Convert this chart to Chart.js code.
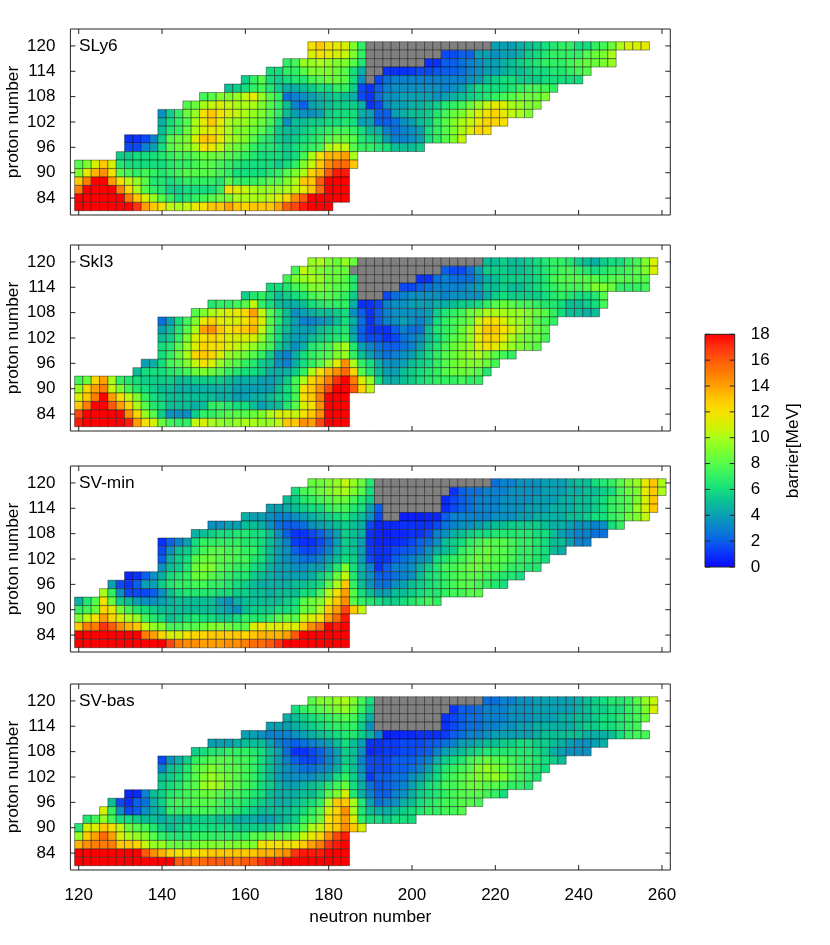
<!DOCTYPE html>
<html>
<head>
<meta charset="utf-8">
<title>barrier maps</title>
<script src="https://cdn.jsdelivr.net/npm/chart.js@4"></script>
<style>
  html,body{margin:0;padding:0;background:#fff;}
  canvas{position:absolute;}
</style>
</head>
<body>
<canvas id="c0" width="690" height="220" style="left:0;top:17px"></canvas>
<canvas id="c1" width="690" height="220" style="left:0;top:233px"></canvas>
<canvas id="c2" width="690" height="220" style="left:0;top:453.5px"></canvas>
<canvas id="c3" width="690" height="262" style="left:0;top:671.5px"></canvas>
<canvas id="bar" width="140" height="260" style="left:690px;top:320px"></canvas>
<script>
// G = no barrier (grey cells)
const G = -1;

const protonNumbers = [120,118,116,114,112,110,108,106,104,102,100,98,96,94,92,90,88,86,84,82];
const neutronTicks = [120,140,160,180,200,220,240,260];
const protonTicks = [84,90,96,102,108,114,120];
const barrierTicks = [0,2,4,6,8,10,12,14,16,18];

const sly6Starts = [176,176,170,166,160,156,150,146,140,140,140,132,132,130,120,120,120,120,120,120];
const sly6Rows = [
  [12,13,12,11.5,11,9,7,G,G,G,G,G,G,G,G,G,G,G,G,G,G,G,4,4,4,4.5,5,5.5,6,6.5,7,7,6,6,7,7.5,8.5,10,11,11,11.5],
  [11,12,11.5,11,10.5,9,7,G,G,G,G,G,G,G,G,G,1.5,1.5,2,2,4,4,3.5,4,4,4.5,5.5,6,6.5,7,7,7,7,8,8.5,9,10],
  [7,7.5,9.5,9.5,10,9.5,9,9,8,6.5,G,G,G,G,G,G,G,1,1,2,2,2.5,3,3.5,4,4,4.5,5,5.5,6,6.5,7,7,7,7.5,8,8.5,8.5,9,9.5],
  [6,6,7,7,8,9,9,9,8.5,8,6,4.5,G,G,1,1,1,1.2,1.5,1.5,1.8,2,2,2.5,3,3.5,4,4,4.5,5,5,5.5,6,6,6.5,6.5,7,7.5,8],
  [5.5,7,8,6,5.5,6,6.5,6.5,7.5,8,8.5,8.5,8,6,3.5,G,1.5,2.5,3,3,3,3,3,3,3,3,3,3.5,4,5,5.5,6,6,5.5,5.5,5.5,6,6,6,6,6],
  [5,5.5,6,7,7.5,6.5,5.5,4.5,4.5,5,5.5,6,6,7,7,5.5,1.5,1,2,3,3.5,3.5,3.5,3.5,3.5,3.5,3,3.5,4,5,6,6,6,6,6.5,7,7.5,7.5,7.5,7],
  [7.5,8,9,9,9.5,10.5,11.5,9.5,8,7,2.5,3,3.5,4,4.5,5,5.5,5,4.5,1.5,1,2.5,3.5,3.5,4,4,4,4,3.5,4,4.5,5,5.5,6,6.5,7,7.5,8,8.5,8.5,8.5,9],
  [8,8.5,10,10.5,11,10.5,10,10,10,9,8,7,5,3,2,4,4.5,5,5.5,5.5,5.5,4.5,1,1.5,3.5,4,4,4.5,4.5,5,5.5,6.5,7,7.5,8.5,9.5,10.5,11.5,11,10,9.5,9,9],
  [3.5,5.5,7,8.5,9.5,12,13,12,11,10.5,10,9.5,9,8,7,5,4,3.5,3.5,4,5.5,6,6,6,4.5,4,2,2,4,4.5,5,5,5.5,6.5,7.5,8.5,9,10,11,12,12.5,11.5,10.5,10,9],
  [4.5,6,7,8,10,11.5,13,11.5,10,9.5,9.5,9,8.5,7.5,6,3.5,5,5,5.5,5.5,6,6,6.5,6,4,4,2,2,2.5,3.5,4,5,5.5,7,8,9,10,10.5,11.5,12.5,12.5,12],
  [5,6.5,7,8.5,10,11,11.5,11,10,9,9,8.5,8,7,5.5,5,5,5.5,6,6.5,7,7.5,7.5,7,6,5,4.5,3,2.5,3,3.5,4,6,7,8,9,10,11,12.5,12],
  [1,1,1.5,3,5.5,8,8.5,9,11,13,13,11.5,10,9.5,9,8,7,6.5,5.5,5,5.5,6,6.5,7,8,8.5,8.5,8,6.5,6,5.5,4,3,3,3.5,4,6,7,8,9,10.5],
  [1.5,1.5,3,4,6,8,8.5,9,10,12,11.5,10.5,9,8.5,8,7,6.5,6.5,6,5.5,6,6.5,7,7.5,10,10.5,10.5,8,7,7,6.5,6,5,5,5,5.5],
  [5.5,5.5,6,6,6,6.5,7,7.5,7.5,8,8.5,8.5,8.5,8,7.5,7,6.5,6,6,6,5.5,6,7.5,10,12,13.5,13.5,14,10],
  [8,9,11,13,11,6.5,6,6,6,6,6,6.5,7,7,7.5,8,8,7.5,7,6.5,6,6,6,6,5.5,6,7,9,10.5,13,14.5,15.5,15.5,13],
  [9,11.5,13.5,14.5,12,8,7.5,7,7.5,7,6.5,7,7.5,8,8,8,8,7.5,7,6,6,6,6,6.5,7,8,9,10,12.5,13.5,16,17.5,17.5],
  [13,15,18,18,14,12,10.5,9.5,8,6.5,6.5,6,6.5,7,7,7,7,6.5,8,7,7,7,7.5,8,8,9,10,13,13,16,18,18,18],
  [15,18,18,18,18,15,12.5,10,8,7,6.5,5.5,5.5,6,6,6,6,7,12,11,10.5,10,9.5,9.5,9.5,10,10.5,11.5,13,15.5,18,18,18],
  [18,18,18,18,18,18,15,13,11,9.5,8,7,6,6.5,7,7.5,8,8.5,9,10,10,10,10,10.5,11,12.5,14.5,16,18,18,18,18,18],
  [18,18,18,18,18,18,18,17,14,13,12,10.5,10,10.5,11.5,12,13,13,14,13,12.5,13,13,13,14,16,16.5,17.5,18,18,18]
];

const skl3Starts = [176,172,170,166,160,152,148,140,140,140,140,140,136,134,120,120,120,120,120,120];
const skl3Rows = [
  [9.5,10,9,8.5,9.5,8.5,G,G,G,G,G,G,G,G,G,G,G,G,G,G,G,5,5,5.5,5,5,5.5,6,6.5,7,7,6.5,5.5,5,4.5,5.5,6,6,7,7.5,9,11],
  [7.5,10.5,9.5,9,8.5,8.5,8.5,G,G,G,G,G,G,G,G,G,G,G,2,1.5,1.5,2.5,4,5.5,5.5,5.5,5,5,5.5,6,6.5,7,7.5,7.5,7,6.5,6,6.5,7,7,7.5,8,9,11],
  [7.5,9,9.5,10,9.5,8.5,8.5,8,6.5,G,G,G,G,G,G,G,1,1,2.5,3,2.5,2.5,2.5,3.5,4.5,5,5.5,5.5,5.5,5.5,6,6.5,7.5,8,8,8,8,8,7.5,8,8,8,8,8],
  [6,6,6.5,7.5,8,9,9,8.5,8,8,6.5,G,G,G,G,G,1.5,1.5,2,2.5,3,3,3,3,3.5,4,5,5,5.5,5,5,5.5,6,6.5,7,7.5,7.5,7.5,8,9,9,8.5,7,7,7,7.5],
  [5.5,6.5,7,6,5,5.5,6,6.5,7.5,8,8,7.5,7,5.5,G,G,G,1.5,2.5,3,3.5,3.5,3.5,3.5,3,3.5,3.5,3.5,3.5,4.5,5.5,6,5.5,5.5,5.5,5.5,6,6.5,7,6.5,6,6,6.5,8],
  [6.5,7,7,7.5,8,10.5,7,6,5,4.5,4.5,5,6,6.5,7,7,7,4.5,1,1,1.5,3,3.5,3.5,4,4,4,4.5,4.5,5,5.5,5.5,6,7,8,8.5,8,7.5,7.5,7,6.5,6.5,6,5,5,5.5,6,7.5],
  [8,9,10,10.5,11,11.5,12.5,14,10.5,8,6.5,5,3.5,4,4.5,5,5,5.5,6,3.5,2,1,2,3,3.5,3.5,3.5,3.5,4,5.5,6.5,7,7.5,8.5,9,10,10,10,9.5,9.5,9,8.5,8,7,6,5,5,4.5,5],
  [2.5,4,6,7.5,9,11.5,12.5,11.5,11,11,12,13,11,8,6.5,5,4,3,3,3.5,4,5,6,4.5,2.5,1,2,3,3.5,4,3.5,3,4,6,7,7.5,8,8.5,10.5,12,12,11,10,9.5,9,8,7.5,7],
  [4,5,6.5,8,10,14,14.5,13,12,12.5,13,13.5,10.5,8,6,5,4,4,4,5,5.5,6,6.5,4,2,1,1,1,2,3,2.5,2.5,5,6.5,7,7.5,8.5,9.5,11.5,13,13,12,11,10,9,8.5,8],
  [5,5.5,7,9,11,12,12.5,12,11,11,11,11,9.5,7.5,6,4.5,4,4,5,5.5,6,6.5,7,4.5,2,1.5,1.5,1,1.5,2.5,3,3.5,5,6,7,8,8.5,9.5,11.5,12.5,12.5,11.5,10,9,8.5,8.5,7.5],
  [6,6.5,8,9.5,11,12.5,12,12,11,10.5,10,9.5,8.5,7.5,5.5,4.5,3.5,4.5,6.5,7,7.5,9,10,6.5,4,3,2.5,2,2,2.5,3,4,5.5,6.5,7.5,8.5,9,9.5,11,12,11.5,10.5,9.5,9,8.5,8],
  [6,7,8.5,10,12.5,13,12.5,11,9.5,9,8.5,8,7,5.5,3.5,3,4.5,6,7,7.5,8,9,9.5,7,5,4,3,2.5,3,3.5,4,5,6,7,8,8.5,9,9.5,10,9,8,7.5,7],
  [4,4.5,6,7.5,8,9,10.5,12,11,9.5,8.5,8,7,6.5,5.5,5,3.5,3,4.5,6,7,8,9.5,11.5,14.5,10,7,6,4.5,3.5,3.5,4,5,5.5,6,7,8,8.5,9,9,9,8.5,7.5],
  [5,6,6,6,6.5,7,7.5,8.5,9,8.5,8,7,6.5,6,6,5.5,4.5,4.5,4.5,5.5,7,10,12,13.5,14.5,15.5,12.5,8,6.5,5,4,4,5,5.5,6,6.5,7,8,8.5,8.5,8.5,8,6.5],
  [7.5,8.5,12.5,14,10,7,6.5,6,5.5,5.5,5.5,5.5,5,5,5.5,5.5,5.5,5.5,5,4.5,4.5,4.5,4,4,4.5,5.5,7.5,10,12.5,13.5,15,17,18,15,11,9.5,6,4.5,4.5,5,5.5,6,6.5,7,7,7,7.5,7,7],
  [9.5,12.5,14,15,10.5,9,7.5,6.5,6,5.5,5,5,4.5,4.5,4.5,4.5,4.5,4.5,4.5,4,4,4,4,4,5,6,7.5,12,13,14.5,16.5,18,18,16,12.5,10.5],
  [11,13,15,18,14,12,10.5,9,7,6,5.5,5,5,5,5,5,5,4.5,4.5,4,4,4.5,4.5,5,5.5,6,7.5,12,13,15,18,18,18],
  [13,15,18,18,16,14,12.5,10,8,6.5,6,5,5,5,4.5,5,7,7,6.5,6,6,5,4,4.5,5,6.5,8,11,12,14.5,18,18,18],
  [16.5,18,18,18,18,18,14.5,12.5,9.5,8,5.5,3.5,3.5,3.5,5.5,7,7,7.5,8,8,8,8.5,9,10,11,11,10.5,12,13,14.5,18,18,18],
  [17.5,18,18,18,18,18,17.5,14,12,11,8.5,7.5,7,7,10.5,11,10,9.5,9,9.5,10,10,9.5,9.5,10.5,13,13,14.5,14,16.5,18,18,18]
];

const svminStarts = [176,172,170,166,160,152,148,140,140,140,140,132,128,126,120,120,120,120,120,120];
const svminRows = [
  [8.5,8.5,9,9.5,10.5,9.5,8.5,6.5,G,G,G,G,G,G,G,G,G,G,G,G,G,G,2.5,3,3,3.5,3.5,3.5,4,4,4,4.5,5,5,6,6.5,7,8,9,9.5,11.5,13,10],
  [6,7.5,8,8.5,9,9.5,10,9,8,6,G,G,G,G,G,G,G,G,G,1,2,2.5,2.5,3,3,3,3.5,3.5,3.5,3.5,4,4,4,4.5,4.5,5,5,5.5,6,7.5,8.5,9,11.5,13,10],
  [5,5.5,6.5,7,7.5,8,8.5,8.5,7.5,6.5,5.5,G,G,G,G,G,G,G,G,0.8,1.5,2,2.5,3,3,3,3.5,3.5,3.5,3.5,4,4,4,4.5,4.5,5,5,5.5,6,7,7.5,8,9,11,13],
  [4,4,4.5,5,5.5,6,6,7,7.5,7.5,6.5,6,4,2,G,G,G,G,G,G,G,0.8,1.5,2,2.5,3,3,3,3.5,3.5,3.5,4,4,4,4.5,4.5,4.5,5,5,5.5,6,7,7.5,8,9.5,11,13],
  [4.5,4,4,3.5,3,3,3.5,4,4.5,5,5.5,6,6.5,5.5,5,3.5,1.5,G,G,0.5,0.5,0.5,0.7,0.8,2,3,3,3,3,3,3.5,3.5,3.5,4,4,4.5,4.5,4.5,4.5,5,5,5.5,6,6,7,7.5,8.5,9,10.5],
  [3.5,3.5,4,4,5,5,4.5,3.5,2.5,2,2,2.5,3.5,4,4.5,5,5.5,5,4.5,1.5,0.7,0.8,0.8,1,1,1,1,1.5,2.5,3,3.5,3.5,4,4.5,5,5,5.5,5.5,5.5,5.5,5,4.5,4.5,4,3.5,3.5,3,3.5,6,7],
  [4.5,5,5.5,6,6,6.5,6.5,6,6,5,3.5,2,1,1,1.5,2,3,4,5.5,5,4.5,1,0.7,0.5,0.7,0.7,1,1,1.5,3,3.5,4.5,5,5.5,6,6,6.5,6.5,6.5,6.5,6.5,6,6,5,4,3.5,3,3,2.5,2.5],
  [1,2,3,4,6,7,7,7,7,7,6.5,6.5,6,5,4,3,1.2,1,1,1.5,2.5,4,5.5,5,4,1,0.7,0.7,0.8,1,1.5,2,2.5,3.5,5,5.5,6,7,7.5,8,8,8,7.5,7,7,6.5,6,5,5,4,3,3],
  [1.5,3.5,5,5.5,6.5,7.5,8,8,7.5,7.5,7,7,6,5,4,3.5,2,1.5,1.5,2,3,4.5,5.5,5,4,1.2,1,1,1.5,1.8,2,2.5,3.5,4.5,5,5.5,7,7.5,8,8.5,8,8,7.5,7,7,6.5,6,5,4.5],
  [2,4.5,5.5,6,8,8.5,8.5,8,8,7.5,7.5,6.5,6,5,4,3.5,3,2.5,2.5,3,4,5,6,5.5,4,1.5,1,1.2,2,2.5,3,3.5,4,6,6.5,7,7.5,8,8.5,8.5,8,8,7.5,7,7,6.5,6],
  [3.5,5,5.5,6.5,8.5,9,9,8,7.5,7,7,6,5.5,4.5,4,4,3.5,3.5,4,4,5,6.5,9,6,4.5,3,1,2,3,3,3.5,4.5,5.5,6.5,7.5,7.5,8,8.5,8.5,8,8,7.5,7,7,6.5,6.5],
  [0.7,1,2,3.5,4.5,6,6.5,7,8.5,8.5,8,7.5,7,6.5,6.5,5.5,5,4.5,4,4,4,4,4.5,5.5,6.5,8.5,10.5,6.5,4.5,3.5,2,2,2.5,3,3.5,5,6,6.5,7,7.5,8,8,8,7.5,7,6.5,6.5,6],
  [4,1.5,1,2,4,4,5.5,6.5,7,7,7.5,7.5,7,7,6.5,6,5.5,5,4.5,4.5,4.5,4.5,5,5,5.5,6,8,10,13,7,5,3.5,2.5,2.5,3.5,4,5,5.5,6,6.5,7,7.5,8,8,7.5,7,6.5,6],
  [10,7,3.5,1.5,1.5,1.5,2,3.5,5,6,6.5,6.5,6.5,6.5,6,6,5.5,5.5,5,5,4.5,5,5,5,6,6,7.5,10,12,14,8,6,5,4,4,5,5,5.5,6,6.5,6.5,7,7.5,7.5,8,8],
  [4.5,6.5,8,12,8.5,5.5,5,4,3.5,3.5,4,4.5,5,5,5,5,5,4,3.5,4.5,5,5,5,5,5,5.5,6,8,8.5,9,11,13,14.5,8,7,6.5,6,5.5,5.5,6,6.5,7,7.5,7],
  [7,7.5,8.5,12.5,11.5,9,7.5,6.5,6,5.5,5,5,5,5,5,5,5,4.5,4,3.5,5,5.5,5.5,5.5,6,6,6.5,8.5,8.5,10,13,14,16.5,13,10.5],
  [9,10.5,12,14,12.5,11,10,9.5,7.5,6.5,6,5,5.5,6,6.5,6,6,5.5,5.5,6,7,6.5,6.5,7,8,8.5,8,10.5,11,12,14,15.5,17.5],
  [13,15,15,17,16,14.5,13.5,13,10.5,9.5,9,7.5,7.5,8,8,8.5,9,9,8.5,8,8,11,12,11,11.5,11.5,11,13,14.5,15.5,18,17.5,18],
  [18,18,18,18,18,18,18,18,15,14,12.5,11,11,12,12.5,12.5,13,13,13,13,12.5,13,13.5,13.5,13.5,14,16,18,18,18,18,18,18],
  [18,18,18,18,18,18,18,18,18,18,18,16.5,15,14.5,14.5,14,14,14,14.5,14.5,15,15.5,15.5,16,17,18,18,18,18,18,18,18,18]
];

const svbasStarts = [176,172,170,166,160,152,148,140,140,140,140,132,128,126,122,120,120,120,120,120];
const svbasRows = [
  [8,9,9,9.5,10,9,7.5,6,G,G,G,G,G,G,G,G,G,G,G,G,G,2.5,2.5,3,3,3.5,3.5,4,4,4,4,4,4.5,5,5.5,6,6.5,6.5,7,8,9.5,10.5],
  [6,7,7.5,8,8.5,9,9.5,8.5,7,5.5,G,G,G,G,G,G,G,G,G,1,2,2,2.5,3,3,3,3.5,3.5,3.5,4,4,4,4,4,4.5,5,5.5,5.5,6,6,7,7.5,9,11],
  [4.5,5,5.5,6,6.5,7,7.5,8,7.5,6,4.5,G,G,G,G,G,G,G,G,1,1.5,2,2.5,2.5,3,3,3,3.5,3.5,3.5,4,4,4,4.5,4.5,5,5,5.5,6,6,6.5,7,7.5,8.5],
  [4,4,4,4.5,5,5.5,6,6.5,7,7,7,5.5,3.5,G,G,G,G,G,G,G,G,1,1.5,2,2.5,2.5,3,3,3.5,3.5,4,4,4.5,4.5,4.5,4.5,4.5,5,5.5,5.5,6,6,6.5,7,7.5],
  [4,4,3.5,3,3,3,3.5,4,4.5,5,5.5,6,6.5,6.5,5.5,4.5,3,0.5,0.7,0.8,0.8,1,1,1,1.2,2,2.5,3,3,3.5,4,4,4,4,4,4.5,5,5,5,5,5,4.5,4.5,4.5,5,6,7,7.5,7.5],
  [4,4,4,4.5,5,5,5,4,3,2.5,2,2.5,3,3.5,4,5,6,5,4,1,1,1.2,1.2,1.5,1.5,1.5,1.8,2,2.5,3,4,4,4.5,5,5,5.5,5.5,6,6,5.5,5.5,5,4.5,4,3.5,3.5,4,4.5],
  [5.5,6,6.5,6.5,7,7,7,6.5,6,5,4,2.5,1,1,1.5,2,3,4,5.5,5,3.5,0.7,1,1.2,1.2,1.5,1.5,1.8,2,3,4,4.5,5,5.5,6,6.5,6.5,6.5,6.5,6.5,6.5,6,5.5,4.5,4,3.5,3.5,3.5],
  [1.5,3.5,4.5,5.5,7,7.5,8,8,8,7.5,7.5,7,6,5,4,3,2,1.5,1.5,2,3,4,5.5,5,3,1.5,1.5,1.5,2,2,2,2.5,3,4.5,5.5,6,6.5,7.5,8,8.5,8,8,7.5,7,7,6.5,6,5.5,5],
  [3,5,5.5,6.5,8,8.5,9,8.5,8,8,7.5,7,6,5,4,3.5,3,2.5,2.5,3,3.5,4.5,6,5,3.5,1.5,1.5,1.5,2,2,2.5,3,4,5.5,6.5,7,7.5,8,9,9.5,9,8.5,8,7.5,7,6.5,6],
  [5,5.5,6,7,8,9,9.5,9,8.5,8,7.5,7,6,5,4,3.5,3.5,3.5,3.5,4,4.5,6,7,5.5,4,1.2,2,2,2.5,2.5,3.5,4,5,6,7,7.5,8,8.5,9,9,9.5,9,8,7.5,7,6.5],
  [5.5,6,6.5,7.5,8,9.5,10,9.5,8.5,8,7.5,7,6,5.5,4.5,4,4,4.5,5,5.5,6.5,7.5,8.5,6,4.5,2.5,1.8,2,2.5,3,4,5,6,6.5,7.5,7.5,8,8.5,8.5,8,8,7.5,7,7,6.5],
  [0.7,0.8,3,5,5.5,6.5,7,7.5,8,8.5,8.5,8,7.5,7.5,7,6.5,6,5,4.5,4.5,4.5,5,5,6,8,9,11,6.5,4.5,3,2,2,3,3.5,4.5,5.5,6,6.5,7,7.5,8,8,8,7.5,7,6],
  [5,1.5,0.8,2,2.5,4.5,5.5,7,7.5,7.5,8,8,8,7.5,7,7,6.5,6,5.5,5,4.5,4.5,5,5.5,6,7,10,13,13,10,6.5,4,2.5,3,3.5,4.5,5,6,6.5,7,7.5,7.5,8,8,7.5],
  [11,7,3.5,1.5,2,3.5,4.5,5,7,7,7,7.5,7.5,7.5,7,7,6.5,6,5.5,5,5,5,5,5.5,6,7,8,11,12.5,14.5,10,6.5,5,4.5,4.5,5,5.5,6,6.5,7,7,7.5,7.5,8],
  [6.5,7.5,9.5,7.5,6,6,5.5,5,5,4.5,5,5,5,5.5,5.5,5.5,5,5,4.5,4.5,4.5,4,4,4.5,5,5.5,7,7.5,8.5,12,13,14,11,7,6,6,5.5,6,6,6],
  [6.5,11,11,13,12,10.5,8.5,8,7.5,6.5,5.5,5,5.5,6,6,6,6,6,6,5.5,5.5,5.5,5.5,5.5,6,6.5,7,8,10,10.5,12.5,13,14.5,13,11],
  [9.5,13,14,15.5,14,11,10,9.5,9,8,7,6.5,6.5,6.5,7,7,7,7,7,7,7,8,8,8.5,8.5,8.5,9,10.5,11.5,12.5,14.5,16.5,17.5],
  [13.5,14.5,15,15,15,13,13,12.5,10.5,9.5,9.5,8.5,8.5,8.5,8.5,9,9,9,9,9,9,9,12,12,12,12,12,13,14,15,17,17.5,18],
  [18,18,18,18,18,18,18,18,16,14.5,13.5,12.5,12,12,12,12.5,13,13,13,13,13,13,13.5,13.5,14,14.5,17,17.5,17.5,17.5,18,18,18],
  [18,18,18,18,18,18,18,18,18,18,18,18,16,16,15.5,15.5,16,16,16,15.5,16,16,17,17.5,17.5,18,18,18,18,18,18,18,18]
];

// colour map, one stop per MeV
const paletteStops = [
  [10,10,255],[10,50,250],[10,95,235],[10,130,205],[10,160,180],[10,190,150],[20,222,125],
  [50,240,100],[85,252,75],[125,255,45],[170,255,25],[215,240,0],[245,225,0],[255,200,0],
  [255,160,0],[255,125,0],[255,90,10],[255,50,15],[255,0,0]
];
const FONT = "Liberation Sans";
const TICK_SIZE = 17;
const TITLE_SIZE = 17.3;

function colorFor(v){
  if(v<0) return "#808080";
  const t = Math.min(v,18), i = Math.min(Math.floor(t),17), f = t-i;
  const a = paletteStops[i], b = paletteStops[i+1];
  return `rgb(${a.map((c,k)=>Math.round(c+(b[k]-c)*f)).join(",")})`;
}

// frame and inward ticks, gnuplot style
const framePlugin = {
  id:"frame",
  afterDraw(chart){
    const {ctx, chartArea:a, scales} = chart;
    ctx.save();
    ctx.strokeStyle = "#222";
    ctx.lineWidth = 1;
    ctx.beginPath();
    scales.y.ticks.forEach(t=>{
      const y = scales.y.getPixelForValue(t.value);
      ctx.moveTo(a.left,y); ctx.lineTo(a.left+5,y);
      ctx.moveTo(a.right,y); ctx.lineTo(a.right-5,y);
    });
    if(scales.x.type==="linear"){
      scales.x.ticks.forEach(t=>{
        const x = scales.x.getPixelForValue(t.value);
        ctx.moveTo(x,a.bottom); ctx.lineTo(x,a.bottom-5);
        ctx.moveTo(x,a.top); ctx.lineTo(x,a.top+5);
      });
    }
    ctx.rect(a.left,a.top,a.right-a.left,a.bottom-a.top);
    ctx.stroke();
    ctx.restore();
  }
};

function makePanel(id, name, starts, rows, lastPanel){
  const pts = [];
  rows.forEach((row,i)=>row.forEach((v,j)=>{
    pts.push({x:starts[i]+2*j, y:protonNumbers[i], v});
  }));
  const nameLabel = {
    id:"nameLabel",
    afterDraw(chart){
      const {ctx, chartArea:a, scales} = chart;
      ctx.save();
      ctx.font = `${TITLE_SIZE}px "${FONT}"`;
      ctx.fillStyle = "#000";
      ctx.textBaseline = "middle";
      ctx.fillText(name, a.left+8.5, scales.y.getPixelForValue(120));
      ctx.restore();
    }
  };
  new Chart(document.getElementById(id), {
    type:"scatter",
    data:{datasets:[{
      data:pts,
      pointStyle:"rect",
      pointRadius:5.89,
      pointHoverRadius:5.89,
      pointBackgroundColor:pts.map(p=>colorFor(p.v)),
      pointBorderColor:"rgba(0,0,0,0.65)",
      pointBorderWidth:0.6
    }]},
    plugins:[framePlugin,nameLabel],
    options:{
      responsive:false,
      animation:false,
      layout:{padding:{left:0,right:19.7,top:12,bottom:lastPanel?6:22}},
      plugins:{legend:{display:false},tooltip:{enabled:false}},
      scales:{
        x:{
          type:"linear",min:118,max:262,
          grid:{display:false},border:{display:false},
          afterBuildTicks:s=>{s.ticks=neutronTicks.map(v=>({value:v}));},
          afterFit:s=>{s.height=lastPanel?58:0;s.paddingLeft=0;s.paddingRight=0;},
          ticks:{display:lastPanel,autoSkip:false,maxRotation:0,padding:7,color:"#000",font:{family:FONT,size:TICK_SIZE}},
          title:{display:lastPanel,text:"neutron number",color:"#000",padding:{top:6,bottom:0},font:{family:FONT,size:TITLE_SIZE}}
        },
        y:{
          type:"linear",min:80,max:124,
          grid:{display:false},border:{display:false},
          afterBuildTicks:s=>{s.ticks=protonTicks.map(v=>({value:v}));},
          afterFit:s=>{s.width=70.4;s.paddingTop=0;s.paddingBottom=0;},
          ticks:{autoSkip:false,padding:7,color:"#000",font:{family:FONT,size:TICK_SIZE}},
          title:{display:true,text:"proton number",color:"#000",padding:{top:3,bottom:0},font:{family:FONT,size:TITLE_SIZE}}
        }
      }
    }
  });
}

makePanel("c0","SLy6",sly6Starts,sly6Rows,false);
makePanel("c1","SkI3",skl3Starts,skl3Rows,false);
makePanel("c2","SV-min",svminStarts,svminRows,false);
makePanel("c3","SV-bas",svbasStarts,svbasRows,true);

// colour bar
const barTitle = {
  id:"barTitle",
  afterDraw(chart){
    const {ctx, chartArea:a} = chart;
    ctx.save();
    ctx.font = `${TITLE_SIZE}px "${FONT}"`;
    ctx.fillStyle = "#000";
    ctx.textAlign = "center";
    ctx.textBaseline = "middle";
    ctx.translate(103.5,(a.top+a.bottom)/2);
    ctx.rotate(-Math.PI/2);
    ctx.fillText("barrier[MeV]",0,0);
    ctx.restore();
  }
};
new Chart(document.getElementById("bar"), {
  type:"bar",
  data:{labels:[""],datasets:[{
    data:[[barrierTicks[0],barrierTicks[barrierTicks.length-1]]],
    barPercentage:1,
    categoryPercentage:1,
    backgroundColor(c){
      const a = c.chart.chartArea;
      if(!a) return "#888";
      const g = c.chart.ctx.createLinearGradient(0,a.bottom,0,a.top);
      paletteStops.forEach((p,i)=>g.addColorStop(i/18,`rgb(${p.join(",")})`));
      return g;
    }
  }]},
  plugins:[framePlugin,barTitle],
  options:{
    responsive:false,
    animation:false,
    layout:{padding:{left:15,right:0,top:14.3,bottom:13}},
    plugins:{legend:{display:false},tooltip:{enabled:false}},
    scales:{
      x:{display:false},
      y:{
        position:"right",type:"linear",min:0,max:18,
        grid:{display:false},border:{display:false},
        afterBuildTicks:s=>{s.ticks=barrierTicks.map(v=>({value:v}));},
        afterFit:s=>{s.width=95.3;s.paddingTop=0;s.paddingBottom=0;},
        ticks:{autoSkip:false,padding:8,color:"#000",font:{family:FONT,size:TICK_SIZE}}
      }
    }
  }
});
</script>
</body>
</html>
